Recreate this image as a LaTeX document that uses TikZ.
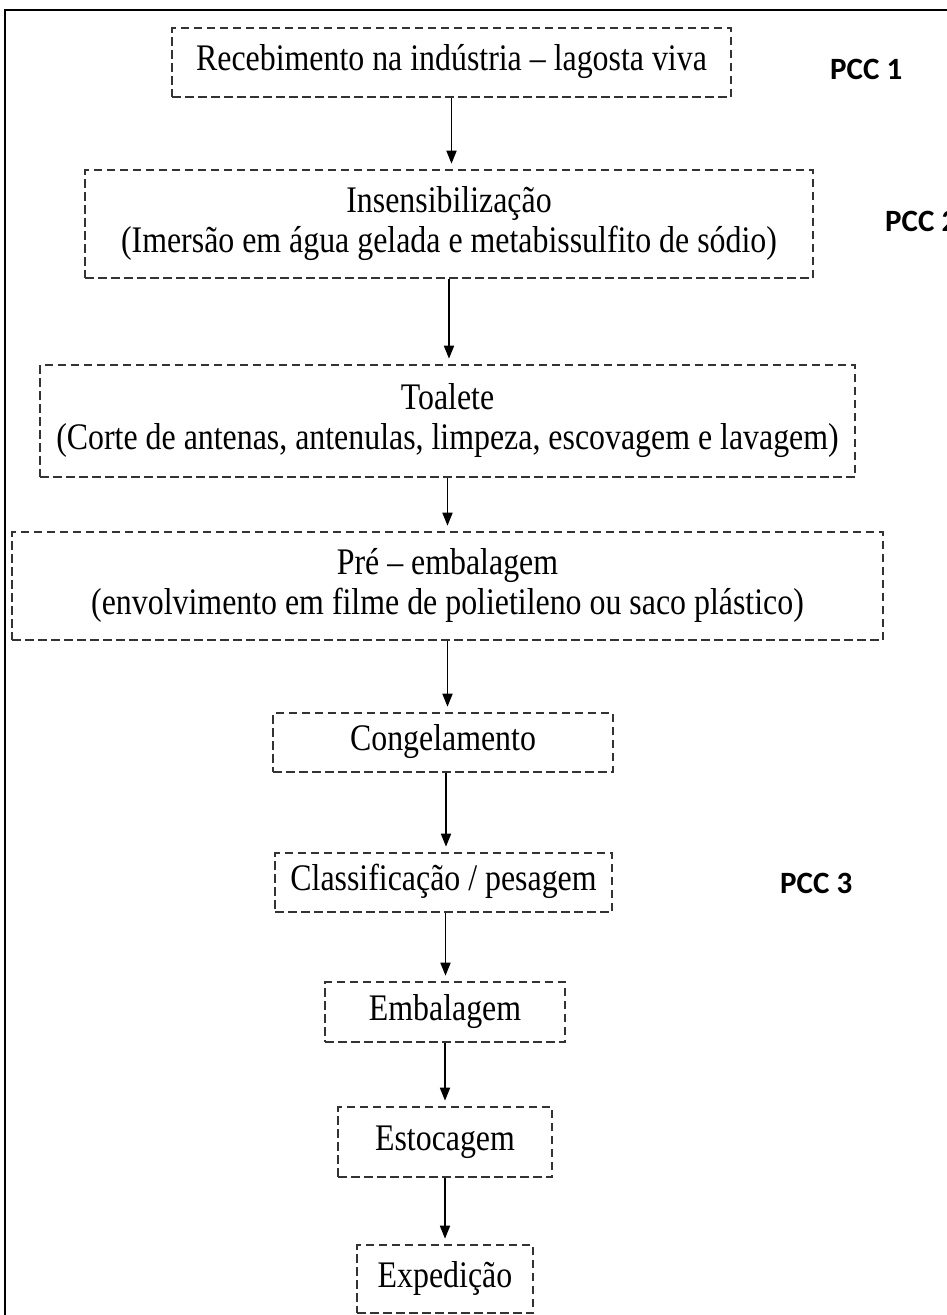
\documentclass[tikz,border=0pt]{standalone}
\usepackage{fontspec}
\setmainfont{Liberation Serif}[FakeStretch=0.85]
\newfontfamily\pccfont{Carlito}
\usetikzlibrary{arrows.meta}
\definecolor{boxgray}{HTML}{333333}
\begin{document}
\begin{tikzpicture}[x=1pt,y=-1pt,
  stage/.style={draw=boxgray, line width=2.6pt, dash pattern=on 8.5pt off 4.5pt,
    inner sep=0pt, align=center, font=\fontsize{37.5}{40}\selectfont},
  flow/.style={draw=black, line width=1.7pt, shorten >=5pt,
    -{Triangle[length=13pt,width=10pt]}},
  pcc/.style={font=\pccfont\bfseries\fontsize{31}{33}\selectfont,
    anchor=base west, inner sep=0pt}]
\useasboundingbox (0,0) rectangle (947,1315);
\clip (0,0) rectangle (947,1315);
\draw[line width=2.4pt] (5,10) rectangle (1000,1400);

\node[stage, minimum width=559pt, minimum height=69pt] (n1) at (451.5,62.5)
  {\strut Recebimento na indústria – lagosta viva};
\node[stage, minimum width=728pt, minimum height=108pt] (n2) at (449,224)
  {\strut Insensibilização\\\strut (Imersão em água gelada e metabissulfito de sódio)};
\node[stage, minimum width=815pt, minimum height=112pt] (n3) at (447.5,421)
  {\strut Toalete\\\strut (Corte de antenas, antenulas, limpeza, escovagem e lavagem)};
\node[stage, minimum width=871pt, minimum height=108pt] (n4) at (447.5,586)
  {\strut Pré – embalagem\\\strut (envolvimento em filme de polietileno ou saco plástico)};
\node[stage, minimum width=340pt, minimum height=59pt] (n5) at (443,742.5)
  {\strut Congelamento};
\node[stage, minimum width=337pt, minimum height=59pt] (n6) at (443.5,882.5)
  {\strut Classificação / pesagem};
\node[stage, minimum width=240pt, minimum height=60pt] (n7) at (445,1012)
  {\strut Embalagem};
\node[stage, minimum width=214pt, minimum height=70pt] (n8) at (445,1142)
  {\strut Estocagem};
\node[stage, minimum width=176pt, minimum height=68pt] (n9) at (445,1279)
  {\strut Expedição};

\node[pcc] (p1) at (830,79) {PCC 1};
\node[pcc] (p2) at (885,231) {PCC 2};
\node[pcc] (p3) at (780,893) {PCC 3};

\draw[flow] (n1.south) -- (n1.south |- n2.north);
\draw[flow] (n2.south) -- (n2.south |- n3.north);
\draw[flow] (n3.south) -- (n3.south |- n4.north);
\draw[flow] (n4.south) -- (n4.south |- n5.north);
\draw[flow] ([xshift=3pt]n5.south) -- ([xshift=3pt]n5.south |- n6.north);
\draw[flow] ([xshift=2pt]n6.south) -- ([xshift=2pt]n6.south |- n7.north);
\draw[flow] (n7.south) -- (n7.south |- n8.north);
\draw[flow] (n8.south) -- (n8.south |- n9.north);
\end{tikzpicture}
\end{document}
